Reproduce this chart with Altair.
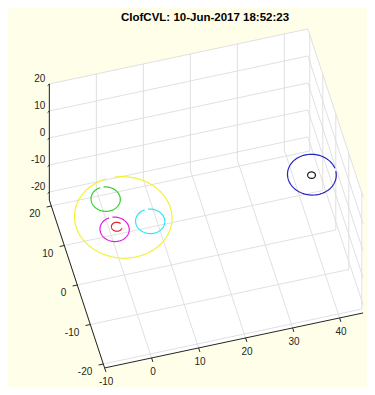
import altair as alt
import pandas as pd
import numpy as np

# ---------------- data ----------------
TITLE = "CIofCVL: 10-Jun-2017 18:52:23"

XLIM = [-10, 45]
YLIM = [-21, 21.5]
ZLIM = [-23, 20]
X_TICKS = [-10, 0, 10, 20, 30, 40]
Y_TICKS = [-20, -10, 0, 10, 20]
Z_TICKS = [-20, -10, 0, 10, 20]

circle_names = ["yellow", "green", "magenta", "red", "cyan", "blue", "black"]
circle_cx = [-0.5, -2.8, -3.0, -2.4, 4.6, 39.8, 39.7]
circle_cy = [-1.0, 4.2, -3.4, -2.9, -3.3, -0.4, -0.5]
circle_cz = [0, 0, 0, 0, 0, 0, 0]
circle_r = [10, 3, 3, 1.1, 3, 5, 0.8]
circle_gap_at = [90, 90, 90, 0, 90, 0, 0]      # degrees, where the ring is open
circle_gap_deg = [10, 14, 14, 60, 14, 8, 0]
circle_colors = ["#f2f23a", "#2fcf2f", "#e01fe0", "#e42222", "#2fe4f2", "#2424c4", "#1a1a1a"]

# ---------------- style / layout ----------------
W, H = 359, 379
MARGIN = 8
ORIGIN = (124.3, 212.9)
EX, EY, EZ = (4.7, -1.0), (-1.3, -3.95), (0.0, -2.7)
BG = "#fefee9"
AXIS_C = "#262626"
GRID_C = "#dcdcdc"
FONT = "Liberation Sans"


def proj(x, y, z):
    px = ORIGIN[0] + EX[0] * x + EY[0] * y + EZ[0] * z - MARGIN
    py = ORIGIN[1] + EX[1] * x + EY[1] * y + EZ[1] * z - MARGIN
    return px, py


def seg(p, q, kind):
    a = proj(*p)
    b = proj(*q)
    return {"x": a[0], "y": a[1], "x2": b[0], "y2": b[1], "kind": kind}


x0, x1 = XLIM
y0, y1 = YLIM
z0, z1 = ZLIM

# walls (floor z=z0, back wall y=y1, right wall x=x1) -> union hexagon
hexv = [proj(x0, y1, z1), proj(x1, y1, z1), proj(x1, y0, z1),
        proj(x1, y0, z0), proj(x0, y0, z0), proj(x0, y1, z0)]


def vrange(poly, xv):
    ys = []
    n = len(poly)
    for i in range(n):
        (ax, ay), (bx, by) = poly[i], poly[(i + 1) % n]
        if abs(bx - ax) < 1e-9:
            if abs(xv - ax) < 1e-6:
                ys += [ay, by]
            continue
        t = (xv - ax) / (bx - ax)
        if -1e-9 <= t <= 1 + 1e-9:
            ys.append(ay + t * (by - ay))
    return min(ys), max(ys)


wall_rows = []
for xv in sorted(set(round(v[0], 6) for v in hexv)):
    lo, hi = vrange(hexv, xv)
    wall_rows.append({"x": xv, "top": lo, "bot": hi})
walls = pd.DataFrame(wall_rows)

grid = []
for xt in X_TICKS:
    grid.append(seg((xt, y0, z0), (xt, y1, z0), "g"))
    grid.append(seg((xt, y1, z0), (xt, y1, z1), "g"))
for yt in Y_TICKS:
    grid.append(seg((x0, yt, z0), (x1, yt, z0), "g"))
    grid.append(seg((x1, yt, z0), (x1, yt, z1), "g"))
for zt in Z_TICKS:
    grid.append(seg((x0, y1, zt), (x1, y1, zt), "g"))
    grid.append(seg((x1, y0, zt), (x1, y1, zt), "g"))
grid = pd.DataFrame(grid)

axes = pd.DataFrame([
    seg((x0, y0, z0), (x1, y0, z0), "a"),
    seg((x0, y0, z0), (x0, y1, z0), "a"),
    seg((x0, y1, z0), (x0, y1, z1), "a"),
])

ticks = []
for xt in X_TICKS:
    ticks.append(seg((xt, y0, z0), (xt, y0 - 1.0, z0), "t"))
for yt in Y_TICKS:
    ticks.append(seg((x0, yt, z0), (x0 - 1.0, yt, z0), "t"))
for zt in Z_TICKS:
    ticks.append(seg((x0, y1, zt), (x0 - 0.45, y1 - 0.3, zt), "t"))
ticks = pd.DataFrame(ticks)

xl = pd.DataFrame([dict(zip(["x", "y"], proj(v, y0, z0)), label=str(v)) for v in X_TICKS])
yl = pd.DataFrame([dict(zip(["x", "y"], proj(x0, v, z0)), label=str(v)) for v in Y_TICKS])
zl = pd.DataFrame([dict(zip(["x", "y"], proj(x0, y1, v)), label=str(v)) for v in Z_TICKS])

rows = []
for name, cx, cy, cz, r, ga, gw in zip(circle_names, circle_cx, circle_cy, circle_cz,
                                       circle_r, circle_gap_at, circle_gap_deg):
    start = np.deg2rad(ga + gw / 2.0)
    end = np.deg2rad(ga + 360 - gw / 2.0)
    for i, t in enumerate(np.linspace(start, end, 121)):
        px, py = proj(cx + r * np.cos(t), cy + r * np.sin(t), cz)
        rows.append({"name": name, "i": i, "x": px, "y": py})
circles = pd.DataFrame(rows)

# ---------------- chart ----------------
xs = alt.Scale(domain=[0, W], nice=False, zero=False)
ys = alt.Scale(domain=[H, 0], nice=False, zero=False)
X = lambda f="x": alt.X(f"{f}:Q", scale=xs, axis=None)
Y = lambda f="y": alt.Y(f"{f}:Q", scale=ys, axis=None)

wall_layer = alt.Chart(walls).mark_area(color="white", opacity=1).encode(
    x=X("x"), y=Y("top"), y2="bot:Q")

grid_layer = alt.Chart(grid).mark_rule(color=GRID_C, strokeWidth=0.9).encode(
    x=X("x"), y=Y("y"), x2="x2:Q", y2="y2:Q")

circle_layer = alt.Chart(circles).mark_line(strokeWidth=1.2).encode(
    x=X("x"), y=Y("y"), order="i:Q",
    color=alt.Color("name:N", scale=alt.Scale(domain=circle_names, range=circle_colors),
                    legend=None),
    detail="name:N")

axis_layer = alt.Chart(axes).mark_rule(color=AXIS_C, strokeWidth=1).encode(
    x=X("x"), y=Y("y"), x2="x2:Q", y2="y2:Q")
tick_layer = alt.Chart(ticks).mark_rule(color=AXIS_C, strokeWidth=1).encode(
    x=X("x"), y=Y("y"), x2="x2:Q", y2="y2:Q")

txt = dict(font=FONT, fontSize=10, color=AXIS_C, baseline="middle")
xl_layer = alt.Chart(xl).mark_text(align="center", dx=1.5, dy=14.5, **txt).encode(
    x=X("x"), y=Y("y"), text="label:N")
yl_layer = alt.Chart(yl).mark_text(align="right", dx=-11, dy=8, **txt).encode(
    x=X("x"), y=Y("y"), text="label:N")
zl_layer = alt.Chart(zl).mark_text(align="right", dx=-4, dy=-5, **txt).encode(
    x=X("x"), y=Y("y"), text="label:N")

chart = alt.layer(
    wall_layer, grid_layer, circle_layer, axis_layer, tick_layer,
    xl_layer, yl_layer, zl_layer
).properties(
    width=W, height=H, padding=0, autosize=alt.AutoSizeParams(type="none"),
    background=BG,
    title=alt.TitleParams(TITLE, anchor="start", fontSize=11.5, fontWeight="bold",
                          font=FONT, color="black", offset=-15, dx=113),
).configure_view(stroke=None, fill=None)

chart.save("out.html", embed_options={"renderer": "svg", "actions": False})
